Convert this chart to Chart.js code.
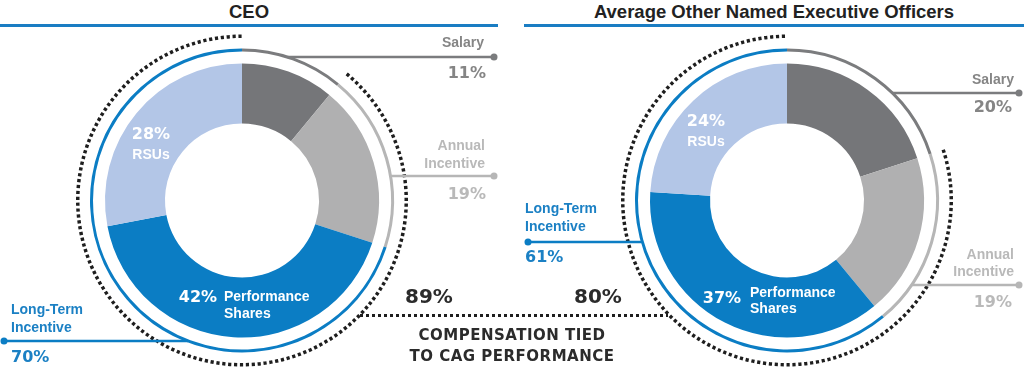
<!DOCTYPE html>
<html>
<head>
<meta charset="utf-8">
<script src="https://cdn.jsdelivr.net/npm/chart.js@4/dist/chart.umd.min.js"></script>
<style>
  body { margin: 0; width: 1024px; height: 371px; overflow: hidden; background: #fff; position: relative; font-family: "Liberation Sans", Arial, sans-serif; }
  canvas { position: absolute; top: 0; }
  #ceoChart { left: 0; }
  #neoChart { left: 512px; }
  .title { position: absolute; top: 1px; font-weight: bold; font-size: 18.5px; color: #222; text-align: center; line-height: 22px; }
  .rule { position: absolute; top: 24px; height: 3px; background: #1a7dc3; }
  .big { position: absolute; top: 284px; font: 700 20px "DejaVu Sans", sans-serif; color: #2b2b2b; }
  .tied { position: absolute; left: 362px; width: 300px; text-align: center; font: 700 15px "DejaVu Sans", sans-serif; letter-spacing: 0.5px; color: #2b2b2b; line-height: 21px; top: 325px; }
  .connector { position: absolute; left: 360px; width: 308px; top: 314px; height: 3px;
    background: repeating-linear-gradient(to right, #1e1e1e 0 3px, transparent 3px 6px); }
</style>
</head>
<body>
<div class="title" style="left:0;width:498px">CEO</div>
<div class="rule" style="left:0;width:498px"></div>
<div class="title" style="left:524px;width:500px">Average Other Named Executive Officers</div>
<div class="rule" style="left:524px;width:500px"></div>

<canvas id="ceoChart" width="512" height="371"></canvas>
<canvas id="neoChart" width="512" height="371"></canvas>

<div class="connector"></div>
<div class="big" id="ceoTiedText" style="left:405px"></div>
<div class="big" id="neoTiedText" style="left:574px"></div>
<div class="tied">COMPENSATION TIED<br>TO CAG PERFORMANCE</div>

<script>
// Pay mix segments (inner donut)
const segments = ["Salary", "Annual Incentive", "Performance Shares", "RSUs"];
const ceoValues = [11, 19, 42, 28];
const neoValues = [20, 19, 37, 24];

// Outer ring groups
const groupLabels = ["Salary", "Annual Incentive", "Long-Term Incentive"];
const ceoGroups = [11, 19, 70];
const neoGroups = [20, 19, 61];

// Compensation tied to performance
const ceoTied = 89;
const neoTied = 80;

const segColors = ["#757679", "#b0b0b1", "#0b7dc4", "#b3c6e7"];
const ringColors = ["#7b7c7e", "#b6b6b6", "#0b7dc4"];
const labelColors = ["#858585", "#b9b9b9", "#1b80c4"];

document.getElementById("ceoTiedText").textContent = ceoTied + "%";
document.getElementById("neoTiedText").textContent = neoTied + "%";

const pctFont = '700 16px "DejaVu Sans", sans-serif';
const nameFont = 'bold 14px "Liberation Sans", Arial, sans-serif';

const ringsPlugin = {
  id: "rings",
  afterDatasetsDraw(chart, args, opts) {
    const ctx = chart.ctx;
    const ox = opts.offsetX;

    // dotted ring = second arc of dataset 0
    const dot = chart.getDatasetMeta(0).data[1];
    ctx.save();
    ctx.strokeStyle = "#1e1e1e";
    ctx.lineWidth = dot.outerRadius - dot.innerRadius;
    ctx.setLineDash([3.2, 2.7]);
    ctx.beginPath();
    ctx.arc(dot.x, dot.y, (dot.outerRadius + dot.innerRadius) / 2, dot.startAngle, dot.endAngle);
    ctx.stroke();
    ctx.restore();

    // leader lines + group labels
    const ring = chart.getDatasetMeta(2).data;
    const groups = chart.data.datasets[2].data;
    opts.leaders.forEach((l, i) => {
      const arc = ring[i];
      const r = (arc.innerRadius + arc.outerRadius) / 2;
      const dy = l.y - arc.y;
      const dx = Math.sqrt(Math.max(r * r - dy * dy, 0));
      const endX = l.end - ox;
      const x0 = arc.x + (endX > arc.x ? dx : -dx);
      ctx.save();
      ctx.strokeStyle = ringColors[i];
      ctx.fillStyle = ringColors[i];
      ctx.lineWidth = 2.5;
      ctx.beginPath();
      ctx.moveTo(x0, l.y);
      ctx.lineTo(endX, l.y);
      ctx.stroke();
      ctx.beginPath();
      ctx.arc(endX, l.y, 3.5, 0, Math.PI * 2);
      ctx.fill();

      ctx.fillStyle = labelColors[i];
      ctx.textAlign = l.align;
      ctx.textBaseline = "middle";
      ctx.font = nameFont;
      const words = groupLabels[i].split(" ");
      const lines = words.length > 1 ? words : [groupLabels[i]];
      lines.forEach((w, k) => ctx.fillText(w, l.tx - ox, l.ny[k]));
      ctx.font = pctFont;
      ctx.fillText(groups[i] + "%", l.px - ox, l.vy);
      ctx.restore();
    });

    // labels inside the donut
    const vals = chart.data.datasets[4].data;
    ctx.save();
    ctx.fillStyle = "#fff";
    ctx.textBaseline = "middle";
    const rs = opts.rsu;
    ctx.textAlign = "center";
    ctx.font = pctFont;
    ctx.fillText(vals[3] + "%", rs.x - ox, rs.y1);
    ctx.font = nameFont;
    ctx.fillText("RSUs", rs.x - ox, rs.y2);
    const ps = opts.perf;
    ctx.font = pctFont;
    ctx.fillText(vals[2] + "%", ps.px - ox, ps.py);
    ctx.textAlign = "left";
    ctx.font = nameFont;
    ctx.fillText("Performance", ps.tx - ox, ps.y1);
    ctx.fillText("Shares", ps.tx - ox, ps.y2);
    ctx.restore();
  }
};

function makeChart(id, values, groups, tied, padding, annot) {
  return new Chart(document.getElementById(id), {
    type: "doughnut",
    data: {
      labels: segments,
      datasets: [
        { data: [100 - tied, tied], backgroundColor: "transparent", weight: 3.5 },
        { data: [1], backgroundColor: "transparent", weight: 10.5 },
        { data: groups, backgroundColor: ringColors, weight: 3 },
        { data: [1], backgroundColor: "transparent", weight: 12 },
        { data: values, backgroundColor: segColors, weight: 60 }
      ]
    },
    options: {
      responsive: false,
      animation: false,
      radius: 166,
      cutout: (77 / 166 * 100) + "%",
      layout: { padding },
      elements: { arc: { borderWidth: 0 } },
      events: [],
      plugins: { legend: { display: false }, tooltip: { enabled: false }, rings: annot }
    },
    plugins: [ringsPlugin]
  });
}

makeChart("ceoChart", ceoValues, ceoGroups, ceoTied,
  { left: 0, right: 28, top: 30, bottom: 0 },
  {
    offsetX: 0,
    leaders: [
      { y: 57, end: 494, align: "right", tx: 484, ny: [43], px: 486, vy: 74 },
      { y: 176, end: 494, align: "right", tx: 485, ny: [146, 164], px: 486, vy: 195 },
      { y: 341, end: 4, align: "left", tx: 11, ny: [310, 328], px: 11, vy: 358 }
    ],
    rsu: { x: 151, y1: 135, y2: 155 },
    perf: { px: 198, py: 298, tx: 224, y1: 297, y2: 314 }
  });

makeChart("neoChart", neoValues, neoGroups, neoTied,
  { left: 38, right: 0, top: 30, bottom: 0 },
  {
    offsetX: 512,
    leaders: [
      { y: 93, end: 1019, align: "right", tx: 1014, ny: [80], px: 1012, vy: 108 },
      { y: 285, end: 1019, align: "right", tx: 1014, ny: [255, 272], px: 1012, vy: 303 },
      { y: 242, end: 528, align: "left", tx: 525, ny: [209, 227], px: 525, vy: 258 }
    ],
    rsu: { x: 706, y1: 122, y2: 142 },
    perf: { px: 722, py: 299, tx: 750, y1: 293, y2: 309 }
  });
</script>
</body>
</html>
